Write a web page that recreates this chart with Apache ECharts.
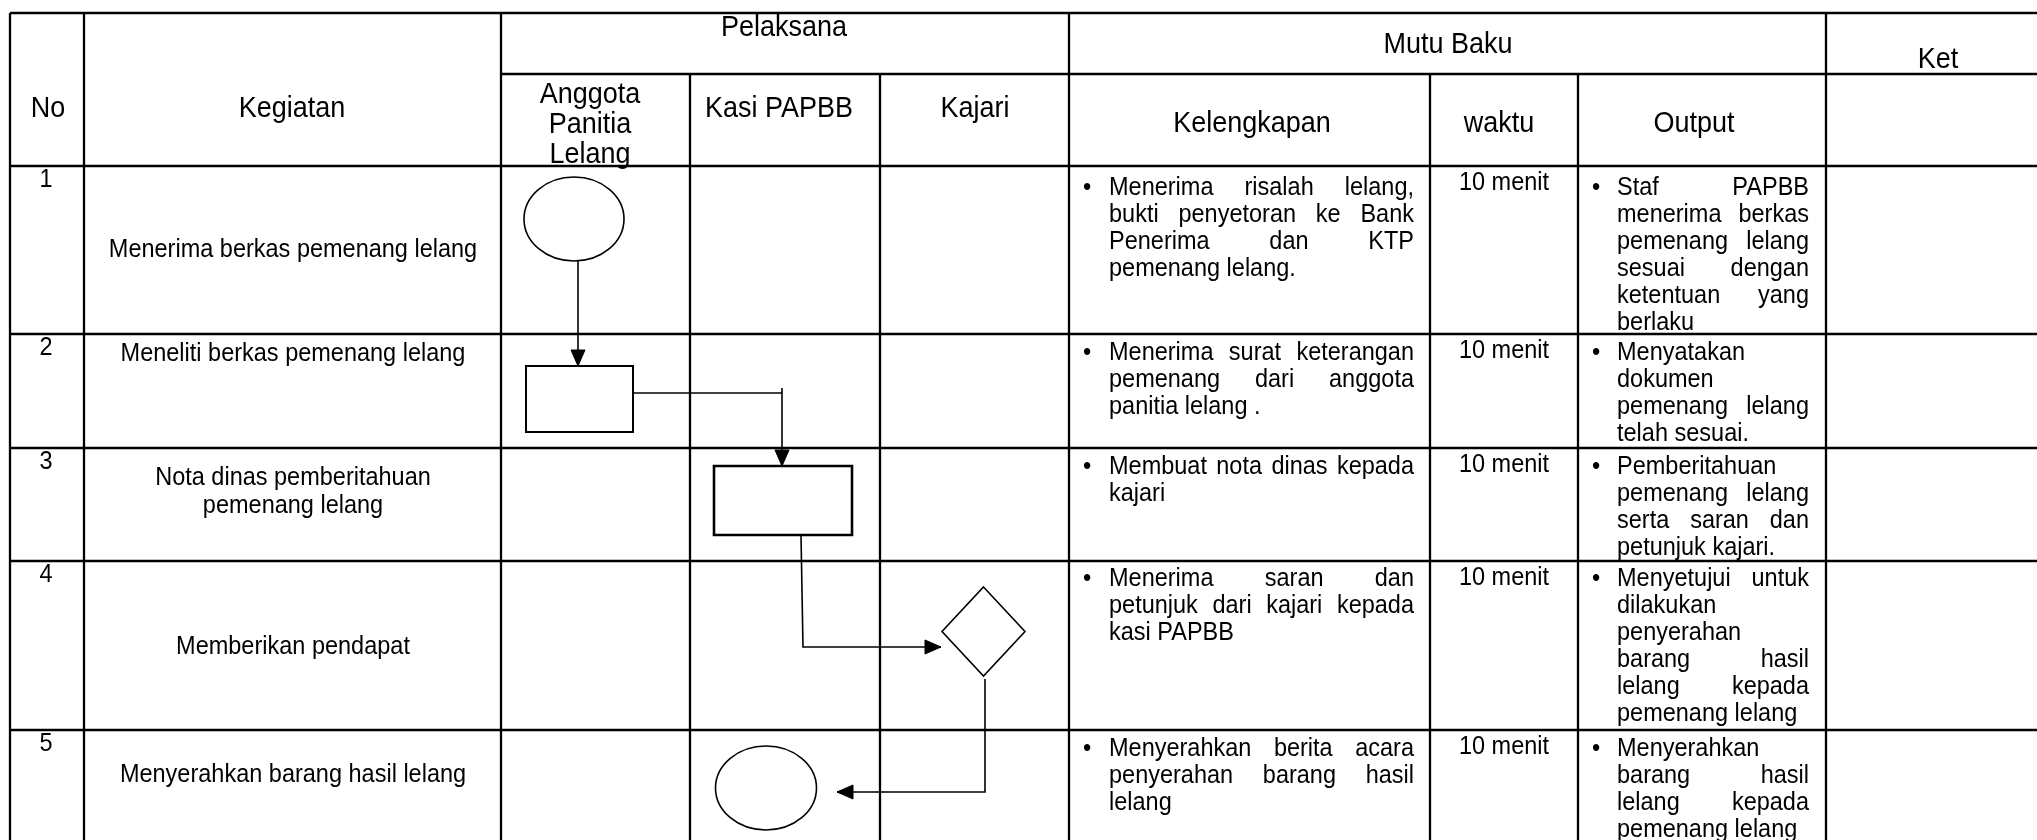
<!DOCTYPE html>
<html><head><meta charset="utf-8">
<script src="https://cdn.jsdelivr.net/npm/echarts/dist/echarts.min.js"></script>
<style>html,body{margin:0;padding:0;background:#fff}#c{width:2037px;height:840px}</style>
</head><body><div id="c"></div>
<script>
// ---------- content ----------
const rowNumbers = ['1', '2', '3', '4', '5'];
const kegiatan = [
  ['Menerima berkas pemenang lelang'],
  ['Meneliti berkas pemenang lelang'],
  ['Nota dinas pemberitahuan', 'pemenang lelang'],
  ['Memberikan pendapat'],
  ['Menyerahkan barang hasil lelang']
];
const kelengkapan = [
  ['Menerima risalah lelang,', 'bukti penyetoran ke Bank', 'Penerima dan KTP', 'pemenang lelang.'],
  ['Menerima surat keterangan', 'pemenang dari anggota', 'panitia lelang .'],
  ['Membuat nota dinas kepada', 'kajari'],
  ['Menerima saran dan', 'petunjuk dari kajari kepada', 'kasi PAPBB'],
  ['Menyerahkan berita acara', 'penyerahan barang hasil', 'lelang']
];
const waktu = ['10 menit', '10 menit', '10 menit', '10 menit', '10 menit'];
const outputs = [
  ['Staf PAPBB', 'menerima berkas', 'pemenang lelang', 'sesuai dengan', 'ketentuan yang', 'berlaku'],
  ['Menyatakan', 'dokumen', 'pemenang lelang', 'telah sesuai.'],
  ['Pemberitahuan', 'pemenang lelang', 'serta saran dan', 'petunjuk kajari.'],
  ['Menyetujui untuk', 'dilakukan', 'penyerahan', 'barang hasil', 'lelang kepada', 'pemenang lelang'],
  ['Menyerahkan', 'barang hasil', 'lelang kepada', 'pemenang lelang']
];
const groupHeaders = ['Pelaksana', 'Mutu Baku', 'Ket'];
const subHeaders = ['No', 'Kegiatan', ['Anggota', 'Panitia', 'Lelang'], 'Kasi PAPBB', 'Kajari', 'Kelengkapan', 'waktu', 'Output'];

// flowchart nodes: [kind, cx, cy, w, h]
const flowNodes = [
  ['ellipse', 574, 219, 100, 84],
  ['rect', 579.5, 399, 107, 66],
  ['rect2', 783, 500.5, 138, 69],
  ['diamond', 983.5, 631.5, 83, 89],
  ['ellipse', 766, 788, 101, 84]
];
// flowchart connectors
const connectors = [
  { pts: [[578, 261], [578, 366]], arrow: true },
  { pts: [[633, 393], [782, 393]], arrow: false },
  { pts: [[782, 388], [782, 466]], arrow: true },
  { pts: [[801, 535], [803, 647], [941, 647]], arrow: true },
  { pts: [[985, 679], [985, 792], [837, 792]], arrow: true }
];

// ---------- layout ----------
const W = 2037, H = 840;
const FAMILY = '"Liberation Sans", Arial, Helvetica, sans-serif';
const FS = 23.5, LH = 27, HFS = 27;
const FONT = FS + 'px ' + FAMILY;
const HFONT = HFS + 'px ' + FAMILY;
const SY = 1.06;
const tableTop = 13, headerSplit = 74;
const rowEdges = [166, 334, 448, 561, 730];
const paraOffset = [22, 19, 19, 18, 19];
const kegiatanY = [[250], [354], [478, 506], [647], [775]];

// table line segments
const segments = [];
[10, 84, 501, 1069, 1826].forEach(x => segments.push([x, tableTop, x, H]));
[690, 880, 1430, 1578].forEach(x => segments.push([x, headerSplit, x, H]));
segments.push([10, tableTop, W, tableTop]);
segments.push([501, headerSplit, W, headerSplit]);
rowEdges.forEach(y => segments.push([10, y, W, y]));

// ---------- texts ----------
const ctx = document.createElement('canvas').getContext('2d');
ctx.font = FONT;
const texts = [];
function addText(x, y, t, align, font) { texts.push({ x, y, t, align: align || 'center', font: font || FONT }); }

function paragraph(lines, top, left, right, bulletX) {
  addText(bulletX, top, '\u2022', 'center');
  lines.forEach((line, i) => {
    const y = top + i * LH;
    const words = line.split(' ');
    const isLast = i === lines.length - 1;
    if (isLast || words.length < 2) {
      addText(left, y, line, 'left');
    } else {
      const widths = words.map(w => ctx.measureText(w).width);
      const total = widths.reduce((a, b) => a + b, 0);
      const gap = (right - left - total) / (words.length - 1);
      let x = left;
      words.forEach((w, k) => { addText(x, y, w, 'left'); x += widths[k] + gap; });
    }
  });
}

// headers
addText(784, 28, groupHeaders[0], 'center', HFONT);
addText(1448, 45, groupHeaders[1], 'center', HFONT);
addText(1938, 60, groupHeaders[2], 'center', HFONT);
addText(48, 109, subHeaders[0], 'center', HFONT);
addText(292, 109, subHeaders[1], 'center', HFONT);
subHeaders[2].forEach((t, i) => addText(590, 95 + i * 30, t, 'center', HFONT));
addText(779, 109, subHeaders[3], 'center', HFONT);
addText(975, 109, subHeaders[4], 'center', HFONT);
addText(1252, 124, subHeaders[5], 'center', HFONT);
addText(1499, 124, subHeaders[6], 'center', HFONT);
addText(1694, 124, subHeaders[7], 'center', HFONT);

// body
rowNumbers.forEach((n, r) => {
  const top = rowEdges[r];
  addText(46, top + 14, n);
  kegiatan[r].forEach((t, i) => addText(293, kegiatanY[r][i], t));
  paragraph(kelengkapan[r], top + paraOffset[r], 1109, 1414, 1087);
  addText(1504, top + 17, waktu[r]);
  paragraph(outputs[r], top + paraOffset[r], 1617, 1809, 1596);
});

// ---------- chart ----------
const chart = echarts.init(document.getElementById('c'), null, { renderer: 'canvas' });
chart.setOption({
  animation: false,
  backgroundColor: '#fff',
  grid: { left: 0, right: 0, top: 0, bottom: 0 },
  xAxis: { type: 'value', min: 0, max: W, show: false },
  yAxis: { type: 'value', min: 0, max: H, inverse: true, show: false },
  series: [
    {
      type: 'custom', name: 'table', clip: false,
      data: segments,
      encode: { x: [0, 2], y: [1, 3] },
      renderItem: (params, api) => {
        const a = api.coord([api.value(0), api.value(1)]);
        const b = api.coord([api.value(2), api.value(3)]);
        return { type: 'line', shape: { x1: a[0], y1: a[1], x2: b[0], y2: b[1] },
          style: { stroke: '#000', lineWidth: 2.3 } };
      }
    },
    {
      type: 'custom', name: 'connectors', clip: false,
      data: connectors.map(c => c.pts[0]),
      renderItem: (params, api) => {
        const c = connectors[params.dataIndex];
        const pts = c.pts.map(p => api.coord(p));
        const children = [{ type: 'polyline', shape: { points: pts },
          style: { stroke: '#000', lineWidth: 1.6, fill: null } }];
        if (c.arrow) {
          const e = pts[pts.length - 1], s = pts[pts.length - 2];
          const dx = e[0] - s[0], dy = e[1] - s[1];
          const L = Math.sqrt(dx * dx + dy * dy);
          const ux = dx / L, uy = dy / L;
          const len = 16, hw = 7;
          const bx = e[0] - ux * len, by = e[1] - uy * len;
          children.push({ type: 'polygon', shape: { points: [
            [e[0], e[1]], [bx - uy * hw, by + ux * hw], [bx + uy * hw, by - ux * hw]] },
            style: { fill: '#000', stroke: '#000', lineWidth: 1 } });
        }
        return { type: 'group', children };
      }
    },
    {
      type: 'custom', name: 'nodes', clip: false,
      data: flowNodes.map(n => [n[1], n[2], n[3], n[4]]),
      renderItem: (params, api) => {
        const kind = flowNodes[params.dataIndex][0];
        const c = api.coord([api.value(0), api.value(1)]);
        const s = api.size([api.value(2), api.value(3)]);
        const w = Math.abs(s[0]), h = Math.abs(s[1]);
        if (kind === 'ellipse') {
          return { type: 'ellipse', shape: { cx: c[0], cy: c[1], rx: w / 2, ry: h / 2 },
            style: { fill: '#fff', stroke: '#000', lineWidth: 1.6 } };
        }
        if (kind === 'diamond') {
          return { type: 'polygon', shape: { points: [
            [c[0], c[1] - h / 2], [c[0] + w / 2, c[1]], [c[0], c[1] + h / 2], [c[0] - w / 2, c[1]]] },
            style: { fill: '#fff', stroke: '#000', lineWidth: 1.6 } };
        }
        return { type: 'rect', shape: { x: c[0] - w / 2, y: c[1] - h / 2, width: w, height: h },
          style: { fill: '#fff', stroke: '#000', lineWidth: kind === 'rect2' ? 2.6 : 2 } };
      }
    },
    {
      type: 'custom', name: 'texts', clip: false,
      data: texts.map(t => [t.x, t.y]),
      renderItem: (params, api) => {
        const t = texts[params.dataIndex];
        const p = api.coord([api.value(0), api.value(1)]);
        return { type: 'text', x: p[0], y: p[1], scaleY: SY,
          style: { text: t.t, font: t.font, fill: '#000',
            align: t.align, verticalAlign: 'middle', textAlign: t.align, textVerticalAlign: 'middle' } };
      }
    }
  ]
});
</script></body></html>
